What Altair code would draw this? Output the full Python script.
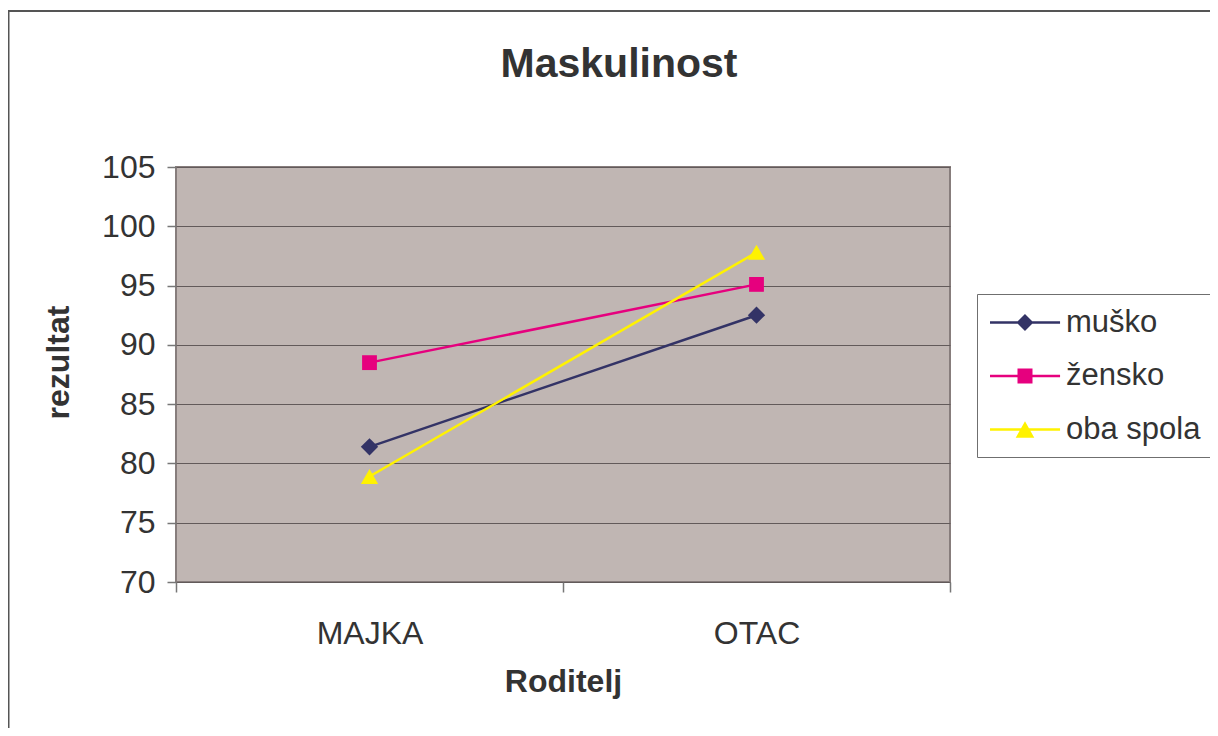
import altair as alt
import pandas as pd

# ---- data ----
parents = ["MAJKA", "OTAC"]
series_names = ["muško", "žensko", "oba spola"]
musko = [81.4, 92.5]
zensko = [88.5, 95.1]
oba_spola = [78.9, 97.8]
y_ticks = [70, 75, 80, 85, 90, 95, 100, 105]

# ---- styling ----
FONT = "Liberation Sans"
TEXT = "#333333"
colors = ["#333366", "#E6007E", "#FFF200"]
marker_shapes = ["diamond", "square", "triangle-up"]
marker_sizes = [300, 220, 300]
# legend symbols: a thin bar (the line) with the marker in its middle
LINE = "M-1,-0.08L3.52,-0.08L3.52,0.08L-1,0.08Z"
legend_paths = [
    LINE + "M1.258,-0.548L1.806,0L1.258,0.548L0.71,0Z",
    LINE + "M0.774,-0.484L1.742,-0.484L1.742,0.484L0.774,0.484Z",
    LINE + "M1.258,-0.535L1.858,0.535L0.658,0.535Z",
]

rows = []
for name, vals in zip(series_names, [musko, zensko, oba_spola]):
    for p, v in zip(parents, vals):
        rows.append({"roditelj": p, "serija": name, "rezultat": v})
df = pd.DataFrame(rows)

x_enc = alt.X(
    "roditelj:N",
    sort=parents,
    scale=alt.Scale(type="band", domain=parents, paddingInner=0, paddingOuter=0),
    axis=alt.Axis(
        title="Roditelj", labelAngle=0, tickBand="extent", domain=False, grid=False,
        tickSize=10, tickColor="#777777", tickWidth=1.5,
        labelFont=FONT, labelFontSize=32, labelColor=TEXT,
        labelBaseline="alphabetic", labelPadding=51,
        titleFont=FONT, titleFontSize=32, titleFontWeight="bold", titleColor=TEXT,
        titleBaseline="alphabetic", titleY=109,
    ),
)
y_enc = alt.Y(
    "rezultat:Q",
    scale=alt.Scale(domain=[70, 105], nice=False, zero=False),
    axis=alt.Axis(
        title="rezultat", values=y_ticks, grid=True, gridColor="#625a5a", gridWidth=1.2,
        domain=False, tickSize=9, tickColor="#777777", tickWidth=1.5,
        labelFont=FONT, labelFontSize=32, labelColor=TEXT, labelPadding=12,
        titleFont=FONT, titleFontSize=32, titleFontWeight="bold", titleColor=TEXT,
        titleBaseline="alphabetic", titleAngle=270, titleAlign="center",
        titleX=-108, titleY=195,
    ),
)

base = alt.Chart(df)

line_layers = []
point_layers = []
for name, col, shp, sz in zip(series_names, colors, marker_shapes, marker_sizes):
    sub = base.transform_filter(alt.datum.serija == name)
    line_layers.append(sub.mark_line(strokeWidth=2.5, color=col).encode(x=x_enc, y=y_enc))
    point_layers.append(
        sub.mark_point(shape=shp, filled=True, size=sz, color=col, opacity=1)
        .encode(x=x_enc, y=y_enc)
    )

leg = alt.Legend(
    title=None, orient="none", legendX=801, legendY=127, direction="vertical",
    fillColor="white", strokeColor="#6f6f6f", padding=12,
    symbolSize=961, symbolOpacity=1, labelOffset=44,
    rowPadding=21.5, labelFont=FONT, labelFontSize=31,
    labelColor=TEXT, labelLimit=400,
)
# invisible carrier layer that only produces the legend (line-through-marker symbols)
legend_layer = base.mark_point(filled=True, opacity=0, size=961).encode(
    x=x_enc, y=y_enc,
    color=alt.Color("serija:N", scale=alt.Scale(domain=series_names, range=colors), legend=leg),
    shape=alt.Shape("serija:N", scale=alt.Scale(domain=series_names, range=legend_paths), legend=leg),
)

one = alt.Chart(pd.DataFrame({"k": [0]}))
border_left = one.mark_rule(color="#555555", strokeWidth=1.5).encode(
    x=alt.value(-167.25), y=alt.value(-157), y2=alt.value(561)
)
border_top = one.mark_rule(color="#555555", strokeWidth=2).encode(
    x=alt.value(-168), x2=alt.value(1034), y=alt.value(-156)
)

chart = alt.layer(
    border_left, border_top, *line_layers, *point_layers, legend_layer
).properties(
    width=774,
    height=415,
    padding={"left": 168, "top": 159, "right": 260, "bottom": 146},
    autosize=alt.AutoSizeParams(type="none"),
    title=alt.TitleParams(
        "Maskulinost", font=FONT, fontSize=41, fontWeight="bold", color=TEXT,
        anchor="middle", frame="group", dx=56, baseline="alphabetic", offset=0, dy=109,
    ),
).configure(
    background="white"
).configure_view(
    fill="#C0B6B3", stroke="#877D7C", strokeWidth=2
)

chart.save("out.html", embed_options={"renderer": "svg", "actions": False})
